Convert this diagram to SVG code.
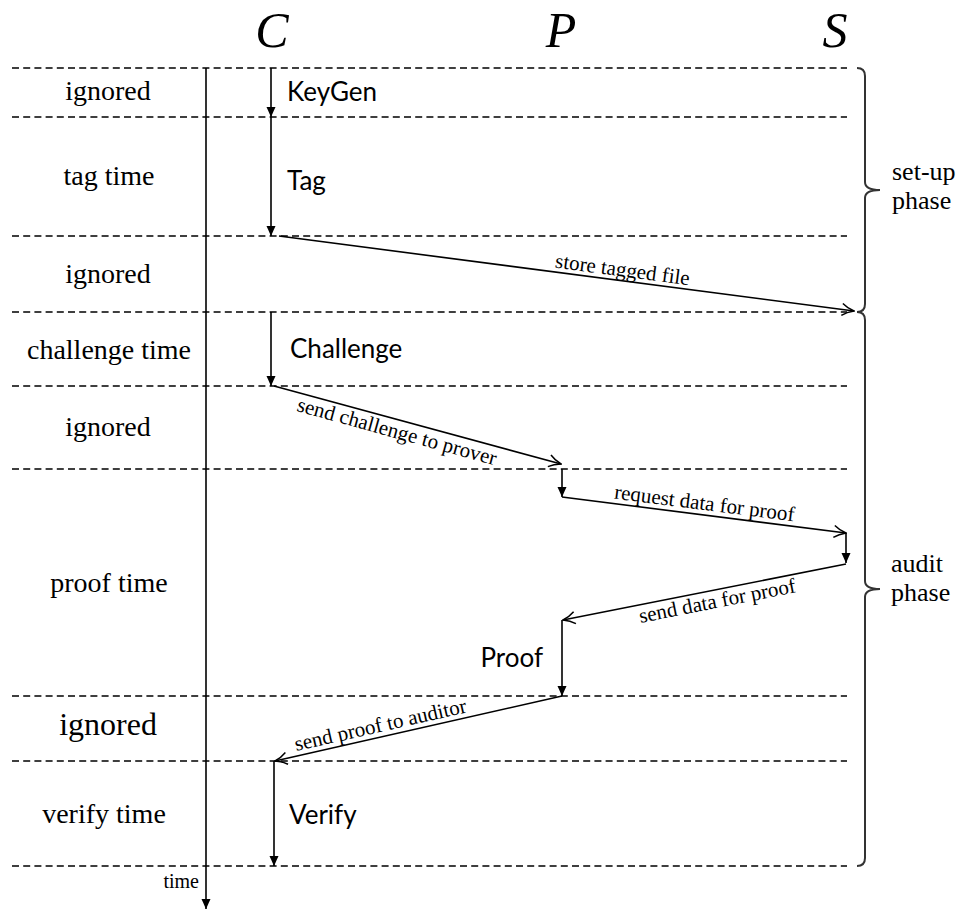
<svg xmlns="http://www.w3.org/2000/svg" width="963" height="909" viewBox="0 0 963 909">
<style>
.dash{stroke:#000;stroke-width:1.3;stroke-dasharray:7 4.2;fill:none}
.v{stroke:#000;stroke-width:1.6;fill:none;marker-end:url(#fill)}
.d{stroke:#000;stroke-width:1.6;fill:none;marker-end:url(#open)}
.ser{font-family:"Liberation Serif","Times New Roman",serif;fill:#000}
.lab{font-size:28px;text-anchor:middle}
.sans{font-family:Lato,"DejaVu Sans",sans-serif;font-size:26px;fill:#000}
.msg{font-size:21px;text-anchor:middle}
.big{font-size:50px;font-style:italic;text-anchor:middle}
.brace{stroke:#333;stroke-width:2;fill:none}
.ph{font-size:26px}
</style>
<defs>
<marker id="fill" markerWidth="10" markerHeight="10" viewBox="0 0 10 10" refX="10" refY="5" orient="auto" markerUnits="userSpaceOnUse">
<path d="M0,0.5 L10,5 L0,9.5 Z" fill="#000"/>
</marker>
<marker id="open" markerWidth="14" markerHeight="14" viewBox="0 0 14 14" refX="13" refY="7" orient="auto" markerUnits="userSpaceOnUse">
<path d="M1,1 Q6,5 13,7 Q6,9 1,13" fill="none" stroke="#000" stroke-width="1.5"/>
</marker>
</defs>
<rect width="963" height="909" fill="#fff"/>

<g id="headers">
<text class="ser big" x="272" y="47">C</text>
<text class="ser big" x="561" y="47">P</text>
<text class="ser big" x="835" y="47">S</text>
</g>

<g id="slots">
<line class="dash" x1="12" y1="68" x2="847" y2="68"/>
<line class="dash" x1="12" y1="117" x2="847" y2="117"/>
<line class="dash" x1="12" y1="236" x2="847" y2="236"/>
<line class="dash" x1="12" y1="312" x2="847" y2="312"/>
<line class="dash" x1="12" y1="386" x2="847" y2="386"/>
<line class="dash" x1="12" y1="469" x2="847" y2="469"/>
<line class="dash" x1="12" y1="696" x2="847" y2="696"/>
<line class="dash" x1="12" y1="761" x2="847" y2="761"/>
<line class="dash" x1="12" y1="866" x2="847" y2="866"/>
</g>

<g id="time-labels">
<text class="ser lab" x="108" y="100">ignored</text>
<text class="ser lab" x="109" y="185">tag time</text>
<text class="ser lab" x="108" y="283">ignored</text>
<text class="ser lab" x="109" y="359">challenge time</text>
<text class="ser lab" x="108" y="436">ignored</text>
<text class="ser lab" x="109" y="592">proof time</text>
<text class="ser lab" x="108" y="735" style="font-size:32px">ignored</text>
<text class="ser lab" x="104" y="823">verify time</text>
</g>

<g id="time-axis">
<line class="v" x1="206" y1="68" x2="206" y2="909"/>
<text class="ser" x="199" y="888" style="font-size:20px;text-anchor:end">time</text>
</g>

<g id="operations">
<text class="sans" x="287" y="101">KeyGen</text>
<text class="sans" x="287" y="190">Tag</text>
<text class="sans" x="290" y="358">Challenge</text>
<text class="sans" x="543" y="667" text-anchor="end">Proof</text>
<text class="sans" x="289" y="824">Verify</text>
</g>

<g id="connectors">
<line class="v" x1="271" y1="68" x2="271" y2="117"/>
<line class="v" x1="271" y1="117" x2="271" y2="236"/>
<line class="d" x1="279" y1="236" x2="854" y2="311"/>
<line class="v" x1="271" y1="312" x2="271" y2="386"/>
<line class="d" x1="274" y1="386" x2="561" y2="464"/>
<line class="v" x1="562" y1="469" x2="562" y2="497"/>
<line class="d" x1="562" y1="497" x2="846" y2="533"/>
<line class="v" x1="846" y1="533" x2="846" y2="563"/>
<line class="d" x1="846" y1="564" x2="563" y2="620"/>
<line class="v" x1="562" y1="620" x2="562" y2="696"/>
<line class="d" x1="562" y1="696" x2="275" y2="761"/>
<line class="v" x1="274" y1="761" x2="274" y2="866"/>
</g>

<g id="message-labels">
<text class="ser msg" transform="translate(621,281.3) rotate(7.5)" y="-5">store tagged file</text>
<text class="ser msg" transform="translate(400,420.7) rotate(15.4)" y="18">send challenge to prover</text>
<text class="ser msg" transform="translate(703,514.9) rotate(7.2)" y="-5">request data for proof</text>
<text class="ser msg" transform="translate(715,589.9) rotate(-11.2)" y="18">send data for proof</text>
<text class="ser msg" transform="translate(383,736.5) rotate(-12.8)" y="-5">send proof to auditor</text>
</g>

<g id="setup-phase">
<path class="brace" d="M857,68 Q865,68 865,76 L865,182 Q865,190 880,190 Q865,190 865,198 L865,304 Q865,312 857,312"/>
<text class="ser ph" x="892" y="180">set-up</text>
<text class="ser ph" x="892" y="209">phase</text>
</g>

<g id="audit-phase">
<path class="brace" d="M857,312 Q865,312 865,320 L865,581 Q865,589 880,589 Q865,589 865,597 L865,858 Q865,866 857,866"/>
<text class="ser ph" x="891" y="572">audit</text>
<text class="ser ph" x="891" y="601">phase</text>
</g>
</svg>
